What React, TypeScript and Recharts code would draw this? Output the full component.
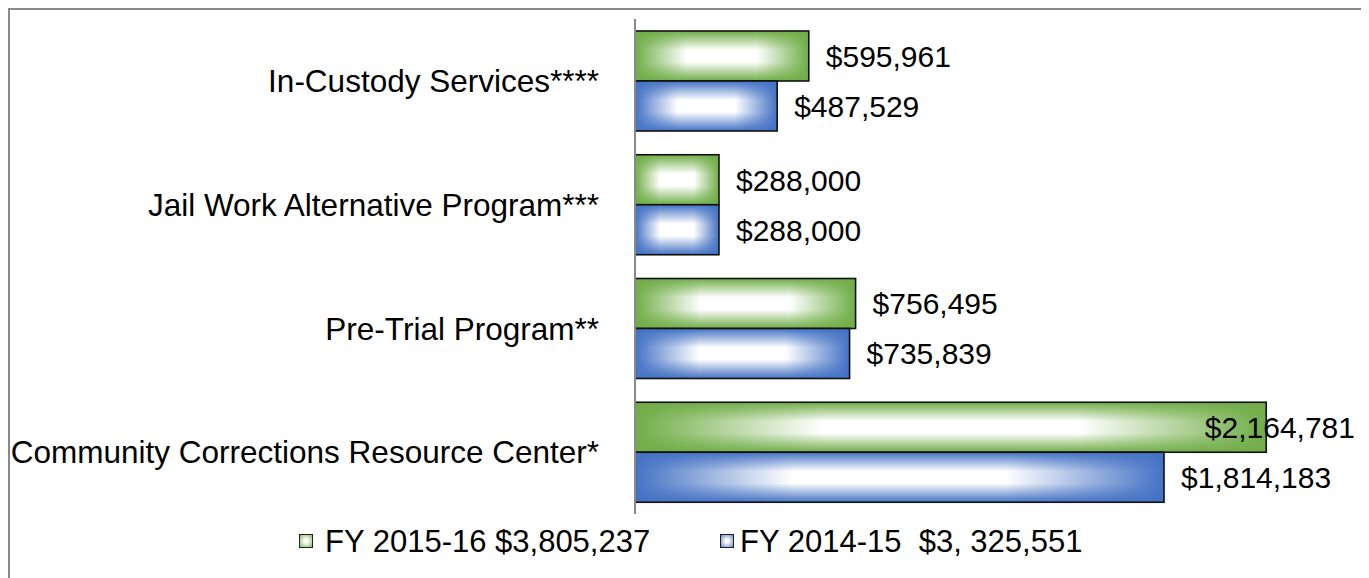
import { BarChart, Bar, XAxis, YAxis, LabelList } from 'recharts'

const categories = [
  'In-Custody Services****',
  'Jail Work Alternative Program***',
  'Pre-Trial Program**',
  'Community Corrections Resource Center*',
]
const fy1516 = [595961, 288000, 756495, 2164781]
const fy1415 = [487529, 288000, 735839, 1814183]
const legendLabels = ['FY 2015-16 $3,805,237', 'FY 2014-15  $3, 325,551']

const data = categories.map((name, i) => ({ name, fy1516: fy1516[i], fy1415: fy1415[i] }))

const FONT = '"Liberation Sans", Arial, sans-serif'
const GREEN = '#70AD47'
const BLUE = '#4472C4'
const LABEL_RIGHT = 1345

function GradBar(props: any) {
  const { x, y, width, height, gid } = props
  if (!width || width <= 0) return null
  return (
    <g>
      <rect x={x} y={y} width={width} height={height} fill={`url(#${gid}H)`} />
      <rect x={x} y={y} width={width} height={height} fill={`url(#${gid}V)`} />
      <rect x={x} y={y} width={width} height={height} fill="none" stroke="#111" strokeWidth={1.6} />
    </g>
  )
}

const renderLabel = (props: any) => {
  const { x, y, width, height, value } = props
  const text = '$' + Number(value).toLocaleString('en-US')
  const estW = text.length * 15
  let tx = x + width + 17
  let anchor: 'start' | 'end' = 'start'
  if (tx + estW > LABEL_RIGHT) {
    tx = LABEL_RIGHT
    anchor = 'end'
  }
  return (
    <text x={tx} y={y + height / 2} dy="0.36em" textAnchor={anchor} fontSize={30} fontFamily={FONT} fill="#000">
      {text}
    </text>
  )
}

function Grad({ id, color }: { id: string; color: string }) {
  return (
    <>
      <linearGradient id={`${id}H`} x1="0" y1="0" x2="1" y2="0">
        <stop offset="0" stopColor={color} />
        <stop offset="0.3" stopColor="#fff" />
        <stop offset="0.7" stopColor="#fff" />
        <stop offset="1" stopColor={color} />
      </linearGradient>
      <linearGradient id={`${id}V`} x1="0" y1="0" x2="0" y2="1">
        <stop offset="0" stopColor={color} stopOpacity={1} />
        <stop offset="0.38" stopColor={color} stopOpacity={0} />
        <stop offset="0.62" stopColor={color} stopOpacity={0} />
        <stop offset="1" stopColor={color} stopOpacity={1} />
      </linearGradient>
    </>
  )
}

function Swatch({ color, left }: { color: string; left: number }) {
  return (
    <div
      style={{
        position: 'absolute',
        left,
        top: 24,
        width: 12,
        height: 12,
        border: '1.5px solid #222',
        background: `radial-gradient(circle, #fff 20%, ${color} 115%)`,
      }}
    />
  )
}

export default function App() {
  return (
    <div
      style={{
        position: 'relative',
        width: 1358,
        height: 572,
        border: '2px solid #898989',
        boxSizing: 'border-box',
        background: '#fff',
        fontFamily: FONT,
      }}
    >
      <BarChart
        layout="vertical"
        width={1354}
        height={568}
        data={data}
        margin={{ top: 9, right: 0, bottom: 64, left: 0 }}
        barCategoryGap={12}
        barGap={0}
      >
        <defs>
          <Grad id="g" color={GREEN} />
          <Grad id="b" color={BLUE} />
        </defs>
        <XAxis type="number" domain={[0, 2500000]} hide />
        <YAxis
          type="category"
          dataKey="name"
          width={625}
          axisLine={{ stroke: '#898989', strokeWidth: 2 }}
          tickLine={false}
          tickSize={0}
          tickMargin={36}
          tick={{ fontSize: 31.5, fontFamily: FONT, fill: '#000' }}
          interval={0}
        />
        <Bar dataKey="fy1516" isAnimationActive={false} shape={(p: any) => <GradBar {...p} gid="g" />}>
          <LabelList dataKey="fy1516" content={renderLabel} />
        </Bar>
        <Bar dataKey="fy1415" isAnimationActive={false} shape={(p: any) => <GradBar {...p} gid="b" />}>
          <LabelList dataKey="fy1415" content={renderLabel} />
        </Bar>
      </BarChart>
      <div style={{ position: 'absolute', top: 500, left: 0, width: '100%', height: 50, fontSize: 31, lineHeight: '34px' }}>
        <Swatch color={GREEN} left={289} />
        <div style={{ position: 'absolute', left: 315, top: 15, whiteSpace: 'pre' }}>{legendLabels[0]}</div>
        <Swatch color={BLUE} left={710} />
        <div style={{ position: 'absolute', left: 730, top: 15, whiteSpace: 'pre' }}>{legendLabels[1]}</div>
      </div>
    </div>
  )
}
